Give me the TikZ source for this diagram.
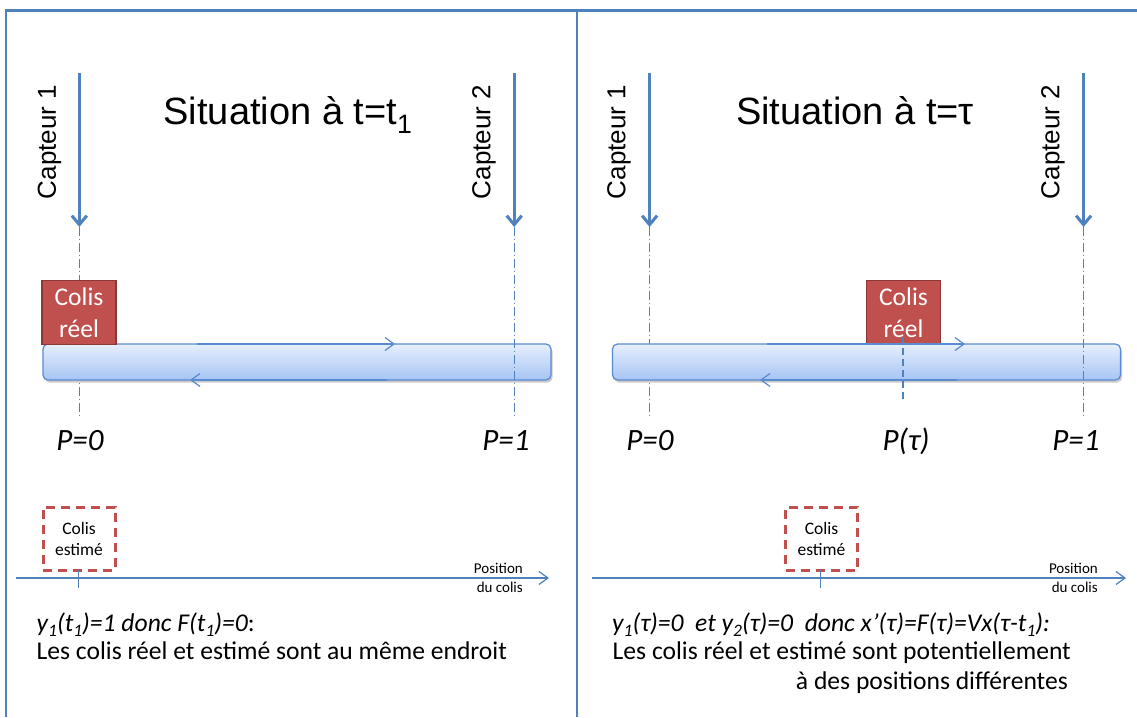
\documentclass[tikz,border=0pt]{standalone}
\usepackage{fontspec}
\setmainfont{Carlito}
\newfontfamily\arialf{Liberation Sans}
\usetikzlibrary{arrows.meta,shadows}
\definecolor{bl}{HTML}{4F81BD}
\definecolor{cvb}{HTML}{5A8AD0}
\definecolor{rd}{HTML}{C0504D}
\definecolor{rdd}{HTML}{8C3836}
\definecolor{cvtop}{HTML}{E6EFFD}
\definecolor{cvbot}{HTML}{A6C4F4}
\newcommand\sbx[1]{\raisebox{-0.22em}{\fontsize{17.5}{18}\selectfont #1}}
\tikzset{
  frame/.style={draw=bl, line width=2.5pt},
  divider/.style={draw=bl, line width=1.3pt},
  title/.style={font=\arialf\fontsize{38}{42}\selectfont, anchor=base, inner sep=0pt},
  captlbl/.style={font=\arialf\fontsize{26}{30}\selectfont, rotate=90, inner sep=0pt},
  captarrow/.style={draw=bl, line width=3pt, -{Straight Barb[length=9pt,width=15pt]}},
  dashdot/.style={draw=bl, line width=1pt, dash pattern=on 9pt off 3pt on 1pt off 3pt},
  dashline/.style={draw=bl, line width=1.5pt, dash pattern=on 7pt off 4pt},
  reel/.style={draw=rdd, line width=1.5pt, fill=rd, text=white, minimum width=74pt, minimum height=64pt, inner sep=0pt, align=center, font=\fontsize{25.5}{32}\selectfont},
  conv/.style={draw=cvb, line width=1.2pt, top color=cvtop, bottom color=cvbot, rounded corners=5pt, minimum width=508pt, minimum height=36pt, inner sep=0pt, drop shadow={shadow xshift=1.5pt, shadow yshift=-2.5pt, opacity=0.3, fill=black!70}},
  convarrow/.style={draw=cvb, line width=1.2pt, -{Straight Barb[length=9pt,width=13pt]}},
  estim/.style={draw=rd, line width=3pt, dash pattern=on 9pt off 6pt, minimum width=72pt, minimum height=63pt, inner sep=0pt, align=center, font=\fontsize{17.5}{21}\selectfont},
  axisline/.style={draw=bl, line width=1.2pt, -{Straight Barb[length=9pt,width=13pt]}},
  tick/.style={draw=bl, line width=1.2pt},
  plbl/.style={font=\itshape\fontsize{31}{36}\selectfont, anchor=base, inner sep=0pt},
  poslbl/.style={font=\fontsize{15}{19}\selectfont, align=right, anchor=east, inner sep=0pt},
  txt/.style={font=\fontsize{25.6}{30}\selectfont, anchor=base west, inner sep=0pt},
}
\begin{document}
\begin{tikzpicture}[x=1pt,y=-1pt]
\useasboundingbox (0,0) rectangle (1137,717);
% frame
\coordinate (fbl) at (6,717);
\coordinate (ftl) at (6,10.5);
\coordinate (ftr) at (1137,10.5);
\coordinate (dt) at (577,10.5);
\coordinate (db) at (577,717);
\draw[frame] (fbl) -- (ftl) -- (ftr);
\draw[divider] (dt) -- (db);

% ===== Left panel =====
\node[title] (t1) at (288,124) {Situation à t=t\textsubscript{1}};
\node[captlbl] (l1c1) at (49.5,142) {Capteur 1};
\node[captlbl] (l1c2) at (484,142) {Capteur 2};
\coordinate (a1s) at (79.3,73);
\coordinate (a1e) at (79.3,227);
\coordinate (a2s) at (514.2,73);
\coordinate (a2e) at (514.2,227);
\coordinate (a1b) at (79.3,417);
\coordinate (a2b) at (514.2,417);
\draw[captarrow] (a1s) -- (a1e);
\draw[captarrow] (a2s) -- (a2e);
\draw[dashdot] (a1e) -- (a1b);
\node[conv] (cv1) at (297,362) {};
\node[reel] (r1) at (79,312.5) {Colis\\réel};
\draw[dashdot] (a2e) -- (a2b);
\coordinate (cv1ts) at (197,344);
\coordinate (cv1te) at (395,344);
\coordinate (cv1bs) at (387,380);
\coordinate (cv1be) at (190,380);
\draw[convarrow] (cv1ts) -- (cv1te);
\draw[convarrow] (cv1bs) -- (cv1be);
\node[plbl] (p0a) at (80,450) {P=0};
\node[plbl] (p1a) at (506,450) {P=1};
\node[estim] (e1) at (79,538.5) {Colis\\estimé};
\coordinate (ax1s) at (16,578);
\coordinate (ax1e) at (549,578);
\draw[axisline] (ax1s) -- (ax1e);
\coordinate (tk1s) at (78.5,570);
\coordinate (tk1e) at (78.5,588);
\draw[tick] (tk1s) -- (tk1e);
\node[poslbl] (pos1) at (523,578) {Position\\du colis};
\node[txt] (x1a) at (36.5,631) {\textit{y\sbx{1}(t\sbx{1})=1 donc F(t\sbx{1})=0}:};
\node[txt] (x1b) at (36.5,659) {Les colis réel et estimé sont au même endroit};

% ===== Right panel =====
\node[title] (t2) at (855,124) {Situation à t=τ};
\node[captlbl] (r2c1) at (619,142) {Capteur 1};
\node[captlbl] (r2c2) at (1053,142) {Capteur 2};
\coordinate (b1s) at (649.6,73);
\coordinate (b1e) at (649.6,227);
\coordinate (b2s) at (1083.6,73);
\coordinate (b2e) at (1083.6,227);
\coordinate (b1b) at (649.6,417);
\coordinate (b2b) at (1083.6,417);
\draw[captarrow] (b1s) -- (b1e);
\draw[captarrow] (b2s) -- (b2e);
\draw[dashdot] (b1e) -- (b1b);
\node[conv] (cv2) at (866.5,362) {};
\node[reel] (r2) at (903.5,312.5) {Colis\\réel};
\draw[dashdot] (b2e) -- (b2b);
\coordinate (ptt) at (903,337);
\coordinate (ptb) at (903,399);
\draw[dashline] (ptt) -- (ptb);
\coordinate (cv2ts) at (767,344);
\coordinate (cv2te) at (965,344);
\coordinate (cv2bs) at (957,380);
\coordinate (cv2be) at (760,380);
\draw[convarrow] (cv2ts) -- (cv2te);
\draw[convarrow] (cv2bs) -- (cv2be);
\node[plbl] (p0b) at (650,450) {P=0};
\node[plbl] (ptau) at (906,450) {P(τ)};
\node[plbl] (p1b) at (1076,450) {P=1};
\node[estim] (e2) at (821.5,538.5) {Colis\\estimé};
\coordinate (ax2s) at (592,578);
\coordinate (ax2e) at (1126,578);
\draw[axisline] (ax2s) -- (ax2e);
\coordinate (tk2s) at (820.6,570);
\coordinate (tk2e) at (820.6,588);
\draw[tick] (tk2s) -- (tk2e);
\node[poslbl] (pos2) at (1098,578) {Position\\du colis};
\node[txt] (x2a) at (612,631) {\textit{y\sbx{1}(τ)=0\ \ et y\sbx{2}(τ)=0\ \ donc x’(τ)=F(τ)=Vx(τ-t\sbx{1}):}};
\node[txt] (x2b) at (612.5,659) {Les colis réel et estimé sont potentiellement};
\node[font=\fontsize{25.6}{30}\selectfont, anchor=base east, inner sep=0pt] (x2c) at (1068,689) {à des positions différentes};
\end{tikzpicture}
\end{document}
